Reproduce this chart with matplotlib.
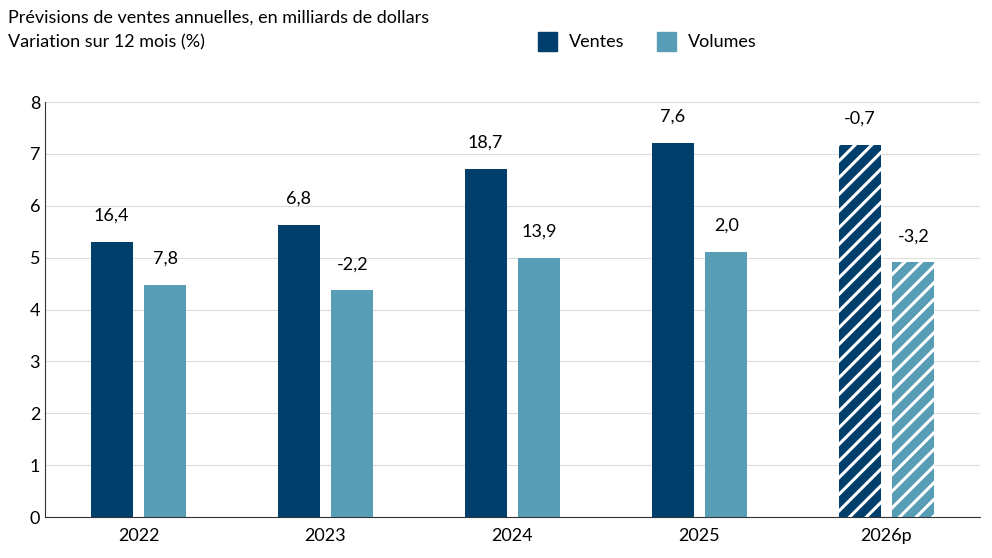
import matplotlib
matplotlib.use("Agg")
import matplotlib.pyplot as plt
import numpy as np

years = ["2022", "2023", "2024", "2025", "2026p"]
ventes = [5.30, 5.63, 6.71, 7.21, 7.17]
volumes = [4.47, 4.37, 4.99, 5.11, 4.91]
ventes_lbl = ["16,4", "6,8", "18,7", "7,6", "-0,7"]
volumes_lbl = ["7,8", "-2,2", "13,9", "2,0", "-3,2"]

DARK, LIGHT = "#003F6B", "#579DB5"
plt.rcParams["font.family"] = ["Lato", "DejaVu Sans"]
plt.rcParams["hatch.color"] = "white"
plt.rcParams["hatch.linewidth"] = 2.2

fig = plt.figure(figsize=(9.92, 5.58), dpi=100)
ax = fig.add_axes([45/992, 1-517/558, 935/992, 415/558])

x = np.arange(len(years))
w, off = 0.224, 0.144
for i in range(len(years)):
    fc = i == len(years) - 1
    b1 = ax.bar(x[i] - off, ventes[i], w, color=DARK, hatch="//" if fc else None,
                edgecolor="white" if fc else DARK, linewidth=0 if fc else 0, zorder=3)
    b2 = ax.bar(x[i] + off, volumes[i], w, color=LIGHT, hatch="//" if fc else None,
                edgecolor="white" if fc else LIGHT, linewidth=0, zorder=3)
    ax.text(x[i] - off, ventes[i] + 0.35, ventes_lbl[i], ha="center", va="bottom", fontsize=13)
    ax.text(x[i] + off, volumes[i] + 0.35, volumes_lbl[i], ha="center", va="bottom", fontsize=13)

ax.set_xlim(-0.5, 4.5)
ax.set_ylim(0, 8)
ax.set_yticks(range(9))
ax.set_xticks(x)
ax.set_xticklabels(years)
ax.tick_params(axis="both", labelsize=13, length=0)
ax.tick_params(axis="x", pad=8)
ax.grid(axis="y", color="#dddddd", linewidth=0.8, zorder=0)
for s in ["top", "right"]:
    ax.spines[s].set_visible(False)
ax.spines["left"].set_color("#333333")
ax.spines["bottom"].set_color("#333333")

fig.text(8/992, 1-18/558, "Prévisions de ventes annuelles, en milliards de dollars",
         fontsize=13, va="center")
fig.text(8/992, 1-42/558, "Variation sur 12 mois (%)", fontsize=13, va="center")
for px, col, lab in [(538, DARK, "Ventes"), (657, LIGHT, "Volumes")]:
    fig.patches.append(plt.Rectangle((px/992, 1-51/558), 19/992, 19/558,
                                     color=col, transform=fig.transFigure))
    fig.text((px + 31)/992, 1-42/558, lab, fontsize=13, va="center")

fig.savefig("out.png", dpi=100)
